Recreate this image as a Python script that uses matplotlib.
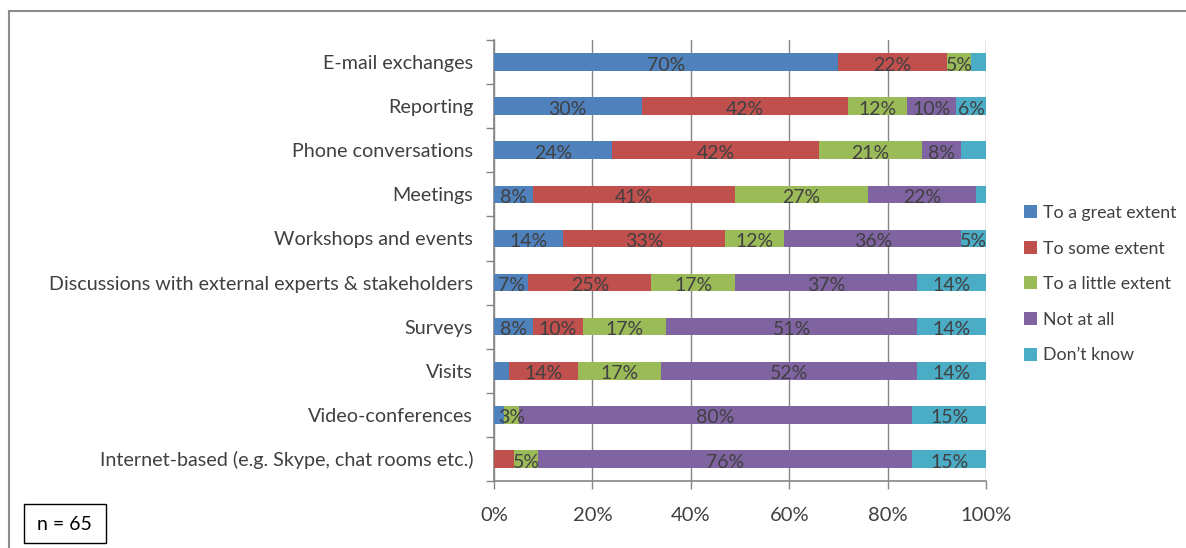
import matplotlib.pyplot as plt
from matplotlib.patches import Rectangle
import numpy as np

plt.rcParams['font.family'] = ['Lato', 'DejaVu Sans']

# survey answers per communication channel, in percent
channels = ['E-mail exchanges', 'Reporting', 'Phone conversations', 'Meetings',
            'Workshops and events',
            'Discussions with external experts & stakeholders', 'Surveys',
            'Visits', 'Video-conferences',
            'Internet-based (e.g. Skype, chat rooms etc.)']
great = [70, 30, 24, 8, 14, 7, 8, 3, 2, 0]
some = [22, 42, 42, 41, 33, 25, 10, 14, 0, 4]
little = [5, 12, 21, 27, 12, 17, 17, 17, 3, 5]
not_at_all = [0, 10, 8, 22, 36, 37, 51, 52, 80, 76]
dont_know = [3, 6, 5, 2, 5, 14, 14, 14, 15, 15]

series = ['To a great extent', 'To some extent', 'To a little extent',
          'Not at all', 'Don\u2019t know']
colors = ['#4F81BD', '#C0504D', '#9BBB59', '#8064A2', '#4BACC6']
# (row, series) segments drawn without a value label
no_label = {(0, 4), (2, 4), (3, 4), (7, 0), (8, 0), (9, 1)}

text_col = '#404040'
grid_col = '#868686'

fig = plt.figure(figsize=(11.86, 5.48), dpi=100)
ax = fig.add_axes([494 / 1186, 67 / 548, 492 / 1186, 441 / 548])

data = [great, some, little, not_at_all, dont_know]
y = np.arange(len(channels))
left = np.zeros(len(channels))
for s, (vals, name, c) in enumerate(zip(data, series, colors)):
    vals = np.array(vals, dtype=float)
    ax.barh(y, vals / 100, left=left / 100, height=0.4, color=c,
            label=name, zorder=3)
    for i, v in enumerate(vals):
        if v > 0 and (i, s) not in no_label:
            ax.text((left[i] + v / 2) / 100, y[i] + 0.07, f'{v:.0f}%',
                    ha='center', va='center', fontsize=14, color=text_col,
                    zorder=4)
    left += vals

ax.set_xlim(0, 1)
ax.set_ylim(len(channels) - 0.5, -0.5)
ax.set_xticks(np.arange(0, 1.01, 0.2))
ax.set_xticklabels([f'{t}%' for t in range(0, 101, 20)])
ax.set_yticks(y)
ax.set_yticklabels(channels)
ax.set_yticks(np.arange(-0.5, len(channels)), minor=True)
ax.tick_params(axis='y', which='major', length=0, pad=15,
               labelsize=14.2, labelcolor=text_col)
ax.tick_params(axis='y', which='minor', length=6, color=grid_col, width=1)
ax.tick_params(axis='x', length=6, color=grid_col, width=1, pad=13,
               labelsize=14.5, labelcolor=text_col)
ax.grid(axis='x', color=grid_col, linewidth=1, zorder=0)
for side in ['top', 'right']:
    ax.spines[side].set_visible(False)
for side in ['left', 'bottom']:
    ax.spines[side].set_color(grid_col)
    ax.spines[side].set_linewidth(1.2)

leg = fig.legend(loc='upper left', bbox_to_anchor=(1008 / 1186, 1 - 189 / 548),
                 frameon=False, fontsize=12.8, handlelength=0.75,
                 handleheight=0.75, handletextpad=0.3, labelspacing=1.1)
for t in leg.get_texts():
    t.set_color(text_col)

# sample size box
fig.patches.append(Rectangle((24 / 1186, 1 - 543 / 548), 82 / 1186, 39 / 548,
                             transform=fig.transFigure, fill=False,
                             edgecolor='black', linewidth=1))
fig.text(64 / 1186, 1 - 525 / 548, 'n = 65', ha='center', va='center',
         fontsize=14, color='black')

# chart frame
fig.patches.append(Rectangle((9 / 1186, -0.05), 1.1, 1 - 11 / 548 + 0.05,
                             transform=fig.transFigure, fill=False,
                             edgecolor='#8C8C8C', linewidth=1.5))

fig.savefig('out.png', dpi=100)
